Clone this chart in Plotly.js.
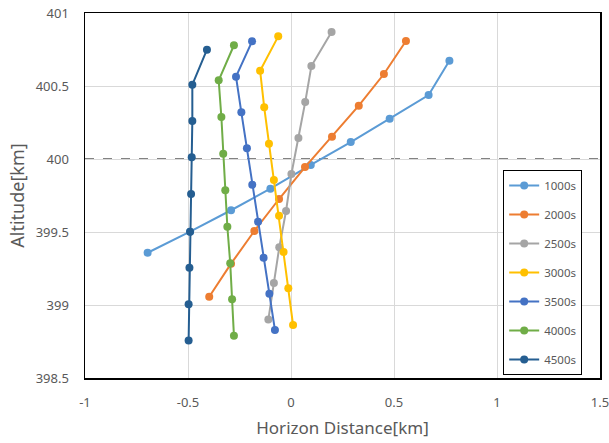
<!DOCTYPE html>
<html>
<head>
<meta charset="utf-8">
<script src="https://cdn.plot.ly/plotly-3.0.1.min.js"></script>
<style>html,body{margin:0;padding:0;background:#fff;}#chart{width:609px;height:443px;}</style>
</head>
<body>
<div id="chart"></div>
<script>
const seriesNames = ["1000s", "2000s", "2500s", "3000s", "3500s", "4000s", "4500s"];
const seriesColors = ["#5B9BD5", "#ED7D31", "#A5A5A5", "#FFC000", "#4472C4", "#70AD47", "#255E91"];

const x1000 = [0.769, 0.668, 0.479, 0.290, 0.096, -0.100, -0.291, -0.490, -0.696];
const y1000 = [400.673, 400.438, 400.276, 400.116, 399.959, 399.797, 399.649, 399.502, 399.358];

const x2000 = [0.558, 0.451, 0.329, 0.199, 0.068, -0.058, -0.178, -0.291, -0.397];
const y2000 = [400.808, 400.582, 400.365, 400.153, 399.945, 399.726, 399.507, 399.283, 399.057];

const x2500 = [0.197, 0.099, 0.069, 0.036, 0.002, -0.024, -0.057, -0.083, -0.110];
const y2500 = [400.870, 400.637, 400.390, 400.144, 399.897, 399.644, 399.395, 399.151, 398.900];

const x3000 = [-0.062, -0.150, -0.130, -0.107, -0.083, -0.058, -0.036, -0.013, 0.010];
const y3000 = [400.840, 400.605, 400.354, 400.105, 399.856, 399.612, 399.363, 399.114, 398.863];

const x3500 = [-0.189, -0.267, -0.241, -0.214, -0.188, -0.160, -0.133, -0.105, -0.078];
const y3500 = [400.806, 400.564, 400.320, 400.073, 399.824, 399.571, 399.324, 399.077, 398.829];

const x4000 = [-0.277, -0.351, -0.338, -0.329, -0.319, -0.309, -0.295, -0.286, -0.277];
const y4000 = [400.779, 400.539, 400.288, 400.036, 399.786, 399.536, 399.286, 399.039, 398.790];

const x4500 = [-0.408, -0.479, -0.479, -0.482, -0.485, -0.490, -0.493, -0.497, -0.497];
const y4500 = [400.749, 400.509, 400.260, 400.012, 399.760, 399.502, 399.255, 399.005, 398.756];

const xs = [x1000, x2000, x2500, x3000, x3500, x4000, x4500];
const ys = [y1000, y2000, y2500, y3000, y3500, y4000, y4500];

const referenceAltitude = 400;
const xTickVals = [-1, -0.5, 0, 0.5, 1, 1.5];
const yTickVals = [398.5, 399, 399.5, 400, 400.5, 401];

const traces = seriesNames.map((name, i) => ({
  type: "scatter",
  mode: "lines+markers",
  name: name,
  x: xs[i],
  y: ys[i],
  legendgroup: name,
  line: {color: seriesColors[i], width: 2},
  marker: {color: seriesColors[i], size: 8}
}));

const fontFam = "Noto Sans, Open Sans, sans-serif";
const layout = {
  width: 609, height: 443,
  margin: {l: 85, r: 9, t: 13, b: 65},
  paper_bgcolor: "#fff", plot_bgcolor: "#fff",
  font: {family: fontFam, color: "#595959", size: 12},
  showlegend: true,
  legend: {
    x: 0.812, y: 0.57, xanchor: "left", yanchor: "top",
    bordercolor: "#000", borderwidth: 1, bgcolor: "#fff",
    font: {size: 11.5, color: "#595959", family: fontFam},
    tracegroupgap: 10,
    itemwidth: 30
  },
  xaxis: {
    range: [-1, 1.5], tickvals: xTickVals, ticktext: xTickVals.map(String),
    showgrid: true, gridcolor: "#d9d9d9", gridwidth: 1,
    zeroline: false, showline: true, linecolor: "#000", linewidth: 1.5, mirror: true,
    ticks: "", ticklabelstandoff: 12, ticklabeloverflow: "allow",
    tickfont: {size: 13, color: "#595959"},
    title: {text: "Horizon Distance[km]", font: {size: 17, color: "#595959"}, standoff: 12}
  },
  yaxis: {
    range: [398.5, 401], tickvals: yTickVals, ticktext: yTickVals.map(String),
    showgrid: true, gridcolor: "#d9d9d9", gridwidth: 1,
    zeroline: false, showline: true, linecolor: "#000", linewidth: 1.5, mirror: true,
    ticks: "", ticklabelstandoff: 12, ticklabeloverflow: "allow",
    tickfont: {size: 13, color: "#595959"},
    title: {text: "Altitude[km]", font: {size: 18, color: "#595959"}, standoff: 6}
  },
  shapes: [{
    type: "line", xref: "paper", x0: 0, x1: 1, yref: "y", y0: referenceAltitude, y1: referenceAltitude,
    line: {color: "#595959", width: 1.5, dash: "dash"}, layer: "below"
  }]
};

Plotly.newPlot("chart", traces, layout, {displayModeBar: false, staticPlot: true});
</script>
</body>
</html>
